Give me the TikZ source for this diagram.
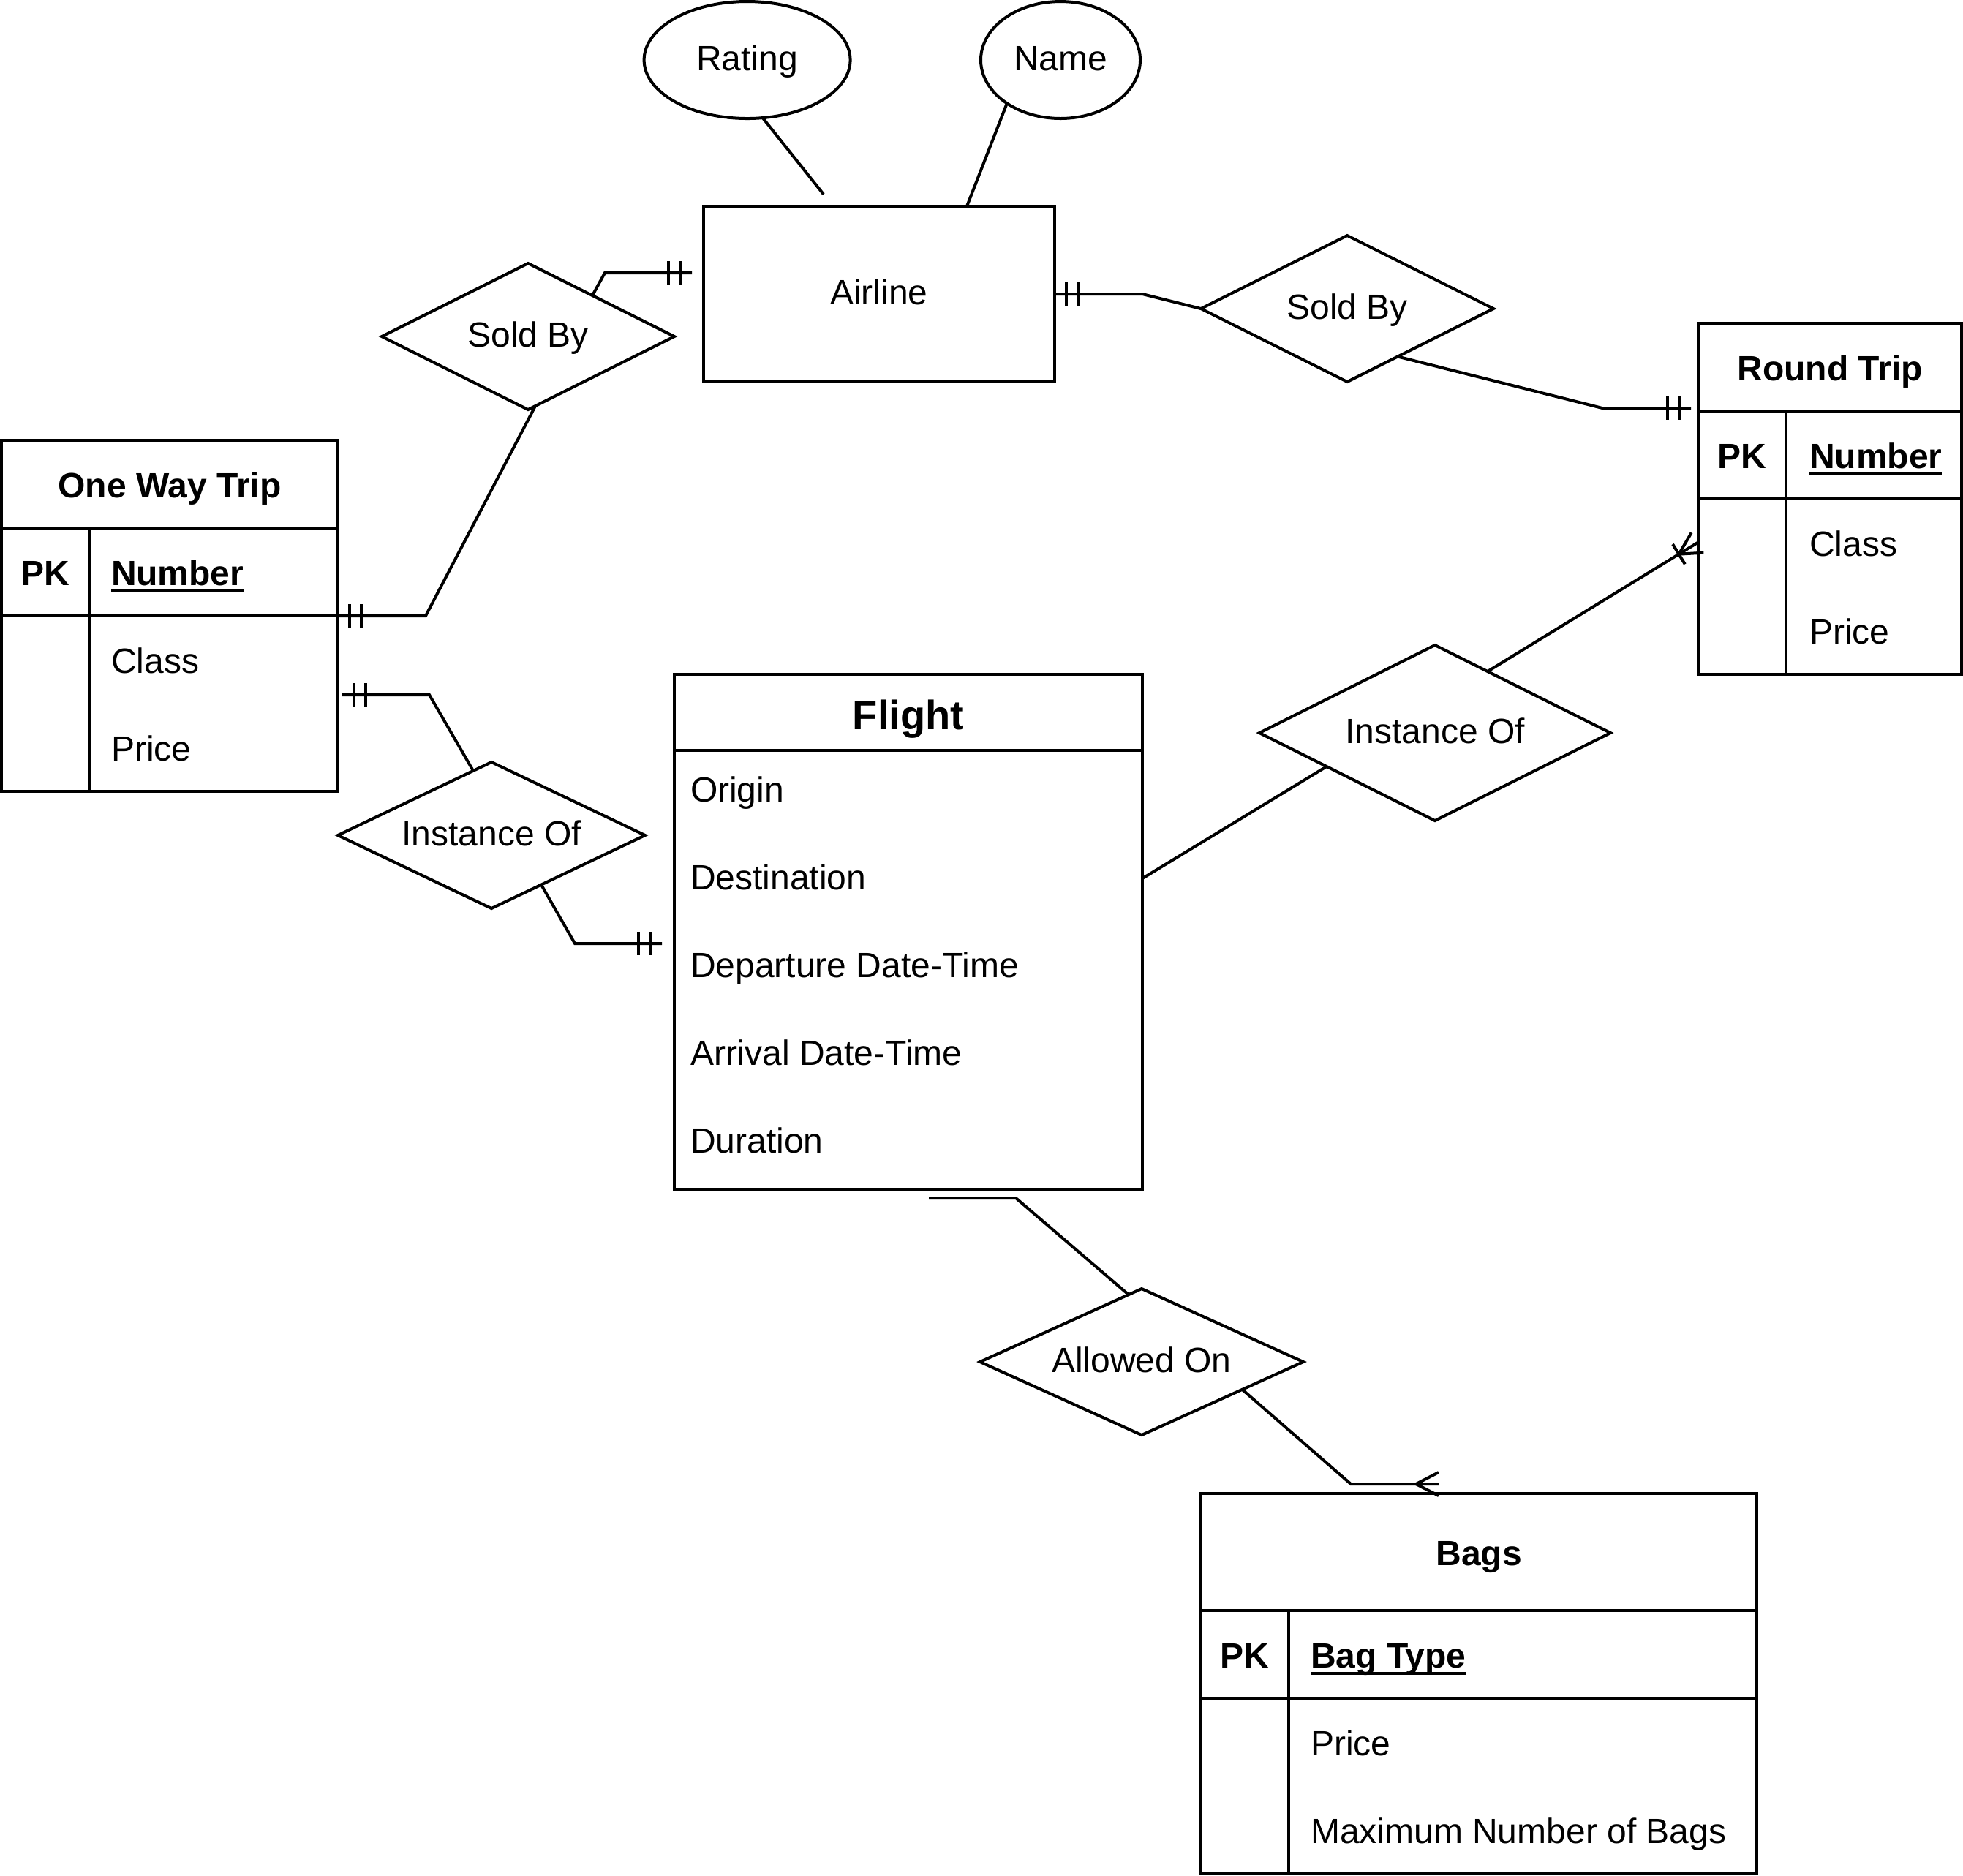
\documentclass[tikz,border=0pt]{standalone}
\usepackage{fontspec}
\setmainfont{Liberation Sans}
\usetikzlibrary{shapes.geometric,calc}
\newsavebox\ulbox
\newcommand\ulin[1]{\sbox\ulbox{#1}\rlap{\rule[-2.5pt]{\wd\ulbox}{1pt}}\usebox\ulbox}
\newcommand\mandone[2]{\draw ($(#1)+(#2*4,-4)$) -- ++(0,8) ($(#1)+(#2*8,-4)$) -- ++(0,8);}
\begin{document}
\begin{tikzpicture}[x=1pt,y=-1pt,line width=1pt,line join=miter,
  every node/.style={inner sep=0pt,outer sep=0pt},
  txt/.style={font=\fontsize{12}{14.4}\selectfont},
  btxt/.style={font=\fontsize{12}{14.4}\selectfont\bfseries},
  entbox/.style={draw,rectangle,anchor=north west},
  rel/.style={draw,diamond,aspect=2,txt,text height=8.6pt,text depth=1.2pt},
  attrib/.style={draw,ellipse,txt,text height=8.6pt,text depth=1.2pt},
  lbl/.style={txt,anchor=base west},
  blbl/.style={btxt,anchor=base west},
  ctitle/.style={btxt,anchor=base}]
\useasboundingbox (0,0) rectangle (671,641);

% attributes
\node[attrib,minimum width=70.5pt,minimum height=40pt] (rating) at (255.4,20.5) {Rating};
\node[attrib,minimum width=54.5pt,minimum height=40pt] (name) at (362.5,20.5) {Name};

% Airline
\node[draw,rectangle,minimum width=120pt,minimum height=60pt,txt,text height=8.6pt,text depth=1.2pt] (airline) at (300.5,100.5) {Airline};

% relationships
\node[rel,minimum width=100pt,minimum height=50pt] (sb1) at (180.5,115) {Sold By};
\node[rel,minimum width=100pt,minimum height=50pt] (sb2) at (460.5,105.5) {Sold By};
\node[rel,minimum width=105pt,minimum height=50pt] (inst1) at (168,285.5) {Instance Of};
\node[rel,minimum width=120pt,minimum height=60pt] (inst2) at (490.5,250.5) {Instance Of};
\node[rel,minimum width=110.5pt,minimum height=50pt] (allowed) at (390.25,465.5) {Allowed On};

% One Way Trip
\node[entbox,minimum width=115pt,minimum height=120pt] (owt) at (0.5,150.5) {};
\draw ($(owt.north west)+(0,30)$) -- ($(owt.north east)+(0,30)$);
\draw ($(owt.north west)+(0,60)$) -- ($(owt.north east)+(0,60)$);
\draw ($(owt.north west)+(30,30)$) -- ($(owt.south west)+(30,0)$);
\node[ctitle] (owtT) at (58,170) {One Way Trip};
\node[ctitle] (owtPK) at (15.5,200) {PK};
\node[blbl] (owtN) at (38,200) {\ulin{Number}};
\node[lbl] (owtC) at (38,230) {Class};
\node[lbl] (owtP) at (38,260) {Price};

% Round Trip
\node[entbox,minimum width=90pt,minimum height=120pt] (rt) at (580.5,110.5) {};
\draw ($(rt.north west)+(0,30)$) -- ($(rt.north east)+(0,30)$);
\draw ($(rt.north west)+(0,60)$) -- ($(rt.north east)+(0,60)$);
\draw ($(rt.north west)+(30,30)$) -- ($(rt.south west)+(30,0)$);
\node[ctitle] (rtT) at (625.5,130) {Round Trip};
\node[ctitle] (rtPK) at (595.5,160) {PK};
\node[blbl] (rtN) at (618.5,160) {\ulin{Number}};
\node[lbl] (rtC) at (618.5,190) {Class};
\node[lbl] (rtP) at (618.5,220) {Price};

% Flight
\node[entbox,minimum width=160pt,minimum height=176pt] (flight) at (230.5,230.5) {};
\draw ($(flight.north west)+(0,26)$) -- ($(flight.north east)+(0,26)$);
\node[anchor=base,font=\fontsize{14}{16.8}\selectfont\bfseries] (flT) at (310.5,249.25) {Flight};
\node[lbl] (fl1) at (236,274) {Origin};
\node[lbl] (fl2) at (236,304) {Destination};
\node[lbl] (fl3) at (236,334) {Departure Date-Time};
\node[lbl] (fl4) at (236,364) {Arrival Date-Time};
\node[lbl] (fl5) at (236,394) {Duration};

% Bags
\node[entbox,minimum width=190pt,minimum height=130pt] (bags) at (410.5,510.5) {};
\draw ($(bags.north west)+(0,40)$) -- ($(bags.north east)+(0,40)$);
\draw ($(bags.north west)+(0,70)$) -- ($(bags.north east)+(0,70)$);
\draw ($(bags.north west)+(30,40)$) -- ($(bags.south west)+(30,0)$);
\node[ctitle] (bgT) at (505.5,535) {Bags};
\node[ctitle] (bgPK) at (425.5,570) {PK};
\node[blbl] (bgBT) at (448,570) {\ulin{Bag Type}};
\node[lbl] (bgP) at (448,600) {Price};
\node[lbl] (bgM) at (448,630) {Maximum Number of Bags};

% connector end points
\coordinate (rtop) at (281.5,66.4);
\coordinate (ntop) at (330.5,70.5);
\coordinate (aw1) at (236.5,93.25);
\coordinate (rt1) at (578,139.5);
\coordinate (ow1) at (115.5,210.5);
\coordinate (ow2) at (117,237.5);
\coordinate (fl1e) at (226.25,322.5);
\coordinate (fl2e) at (390.5,300.25);
\coordinate (rt2) at (580.25,185.5);
\coordinate (fl3e) at (317.5,409.5);
\coordinate (bg1) at (491.75,507.25);

% attribute lines
\draw (rating.-75.3) -- (rtop);
\draw (name.-141.7) -- (ntop);

% Sold By (left) -- Airline
\draw ($(sb1.north)!0.44!(sb1.east)$) -- ($(aw1)+(-29.75,0)$) -- (aw1);
\mandone{aw1}{-1}
% Airline -- Sold By (right)
\draw (airline.east) -- ($(airline.east)+(30,0)$) -- (sb2.west);
\mandone{airline.east}{1}
% Sold By (right) -- Round Trip
\draw ($(sb2.east)!0.655!(sb2.south)$) -- ($(rt1)+(-30.25,0)$) -- (rt1);
\mandone{rt1}{-1}
% One Way Trip -- Sold By (left)
\draw (ow1) -- ($(ow1)+(30,0)$) -- ($(sb1.south)!0.05!(sb1.east)$);
\mandone{ow1}{1}
% One Way Trip -- Instance Of (left)
\draw (ow2) -- ($(ow2)+(29.75,0)$) -- ($(inst1.west)!0.881!(inst1.north)$);
\mandone{ow2}{1}
% Instance Of (left) -- Flight
\draw ($(inst1.south)!0.324!(inst1.east)$) -- ($(fl1e)+(-29.75,0)$) -- (fl1e);
\mandone{fl1e}{-1}
% Flight -- Instance Of (right)
\draw (fl2e) -- ($(inst2.west)!0.383!(inst2.south)$);
% Instance Of (right) -- Round Trip (one to many)
\coordinate (p8) at ($(inst2.north)!0.3!(inst2.east)$);
\draw (p8) -- (rt2);
\coordinate (c8) at ($(rt2)!7.5pt!(p8)$);
\draw ($(rt2)!4pt!90:(p8)$) -- (c8) -- ($(rt2)!4pt!-90:(p8)$);
\draw ($(c8)!4pt!90:(rt2)$) -- ($(c8)!4pt!-90:(rt2)$);
% Flight -- Allowed On
\draw (fl3e) -- ($(fl3e)+(29.75,0)$) -- ($(allowed.west)!0.919!(allowed.north)$);
% Allowed On -- Bags (many)
\draw ($(allowed.south)!0.622!(allowed.east)$) -- ($(bg1)+(-30,0)$) -- (bg1);
\draw ($(bg1)+(0,-4)$) -- ($(bg1)+(-7.75,0)$) -- ($(bg1)+(0,4)$);
\end{tikzpicture}
\end{document}
